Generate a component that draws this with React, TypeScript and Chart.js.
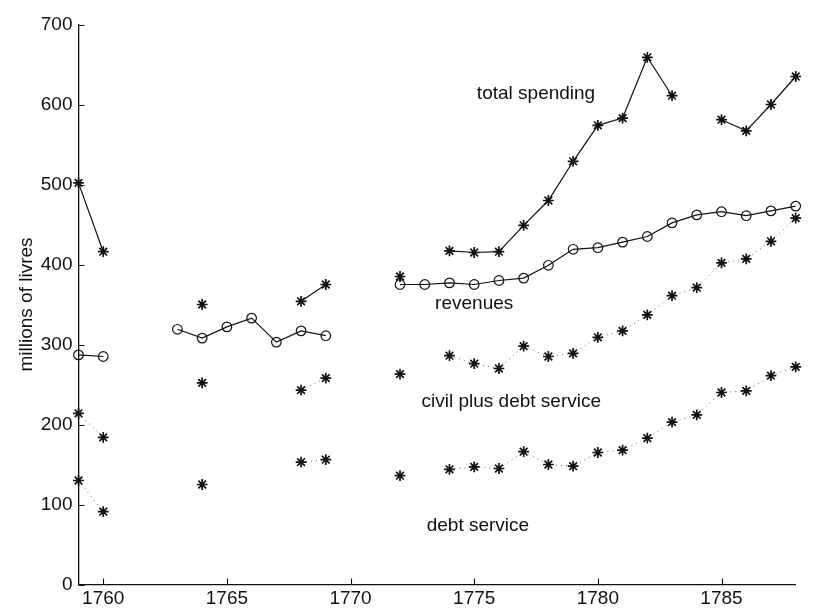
import React, { useEffect, useRef } from "react";
import { Chart, registerables } from "chart.js";

Chart.register(...registerables);

// ---- data ----
const years = [
  1759, 1760, 1761, 1762, 1763, 1764, 1765, 1766, 1767, 1768, 1769, 1770, 1771, 1772, 1773,
  1774, 1775, 1776, 1777, 1778, 1779, 1780, 1781, 1782, 1783, 1784, 1785, 1786, 1787, 1788,
];

const totalSpending = [
  502, 416, null, null, null, 350, null, null, null, 354, 375, null, null, 385, null,
  417, 415, 416, 449, 480, 529, 574, 583, 659, 611, null, 581, 567, 600, 635,
];

const revenues = [
  287, 285, null, null, 319, 308, 322, 333, 303, 317, 311, null, null, 375, 375,
  377, 375, 380, 383, 399, 419, 421, 428, 435, 452, 462, 466, 461, 467, 473,
];

const civilPlusDebt = [
  214, 184, null, null, null, 252, null, null, null, 243, 258, null, null, 263, null,
  286, 276, 270, 298, 285, 289, 309, 317, 337, 361, 371, 402, 407, 429, 458,
];

const debtService = [
  130, 91, null, null, null, 125, null, null, null, 153, 156, null, null, 136, null,
  144, 147, 145, 166, 150, 148, 165, 168, 183, 203, 212, 240, 242, 261, 272,
];

const xTickValues = [1760, 1765, 1770, 1775, 1780, 1785];
const yTickValues = [0, 100, 200, 300, 400, 500, 600, 700];

// curve labels and their anchors (year, value)
const curveLabels = ["total spending", "revenues", "civil plus debt service", "debt service"];
const curveLabelYears = [1777.5, 1775.0, 1776.5, 1775.15];
const curveLabelValues = [614, 351, 229, 74];

const yAxisTitle = "millions of livres";

// ---- styles ----
const INK = "#111111";
const FONT_FAMILY = '"Liberation Sans", Arial, Helvetica, sans-serif';
const FONT_SIZE = 19;

const toPoints = (vals: (number | null)[]) => years.map((yr, i) => ({ x: yr, y: vals[i] }));

const decorPlugin = {
  id: "decor",
  afterDraw(chart: any) {
    const { ctx, chartArea } = chart;
    const xs = chart.scales.x;
    const ys = chart.scales.y;
    ctx.save();
    ctx.strokeStyle = INK;
    ctx.lineWidth = 1.1;
    ctx.beginPath();
    yTickValues.forEach((v) => {
      const py = Math.round(ys.getPixelForValue(v)) + 0.5;
      ctx.moveTo(chartArea.left, py);
      ctx.lineTo(chartArea.left + 6, py);
    });
    xTickValues.forEach((v) => {
      const px = Math.round(xs.getPixelForValue(v)) + 0.5;
      ctx.moveTo(px, chartArea.bottom);
      ctx.lineTo(px, chartArea.bottom - 6);
    });
    ctx.stroke();

    ctx.fillStyle = INK;
    ctx.font = `${FONT_SIZE}px ${FONT_FAMILY}`;
    ctx.textAlign = "center";
    ctx.textBaseline = "middle";
    curveLabels.forEach((t, i) => {
      ctx.fillText(t, xs.getPixelForValue(curveLabelYears[i]), ys.getPixelForValue(curveLabelValues[i]));
    });
    ctx.restore();
  },
};

export default function App() {
  const canvasRef = useRef<HTMLCanvasElement | null>(null);

  useEffect(() => {
    const canvas = canvasRef.current;
    if (!canvas) return;

    const starPoint = {
      pointStyle: "star" as const,
      pointRadius: 5.4,
      pointBorderWidth: 1.7,
      pointBorderColor: INK,
      pointBackgroundColor: INK,
    };

    const chart = new Chart(canvas, {
      type: "line",
      data: {
        datasets: [
          {
            label: "total spending",
            data: toPoints(totalSpending),
            borderColor: INK,
            borderWidth: 1.2,
            spanGaps: false,
            clip: false,
            tension: 0,
            fill: false,
            ...starPoint,
          },
          {
            label: "revenues",
            data: toPoints(revenues),
            borderColor: INK,
            borderWidth: 1.2,
            spanGaps: false,
            clip: false,
            tension: 0,
            fill: false,
            pointStyle: "circle",
            pointRadius: 4.8,
            pointBorderWidth: 1.2,
            pointBorderColor: INK,
            pointBackgroundColor: "rgba(0,0,0,0)",
          },
          {
            label: "civil plus debt service",
            data: toPoints(civilPlusDebt),
            borderColor: "#666666",
            borderWidth: 1,
            borderDash: [1, 4],
            spanGaps: false,
            clip: false,
            tension: 0,
            fill: false,
            ...starPoint,
          },
          {
            label: "debt service",
            data: toPoints(debtService),
            borderColor: "#666666",
            borderWidth: 1,
            borderDash: [1, 4],
            spanGaps: false,
            clip: false,
            tension: 0,
            fill: false,
            ...starPoint,
          },
        ],
      },
      options: {
        responsive: false,
        animation: false,
        events: [],
        layout: { padding: { left: 0, top: 24.5, right: 18.3, bottom: 0 } },
        plugins: {
          legend: { display: false },
          tooltip: { enabled: false },
          title: { display: false },
        },
        scales: {
          x: {
            type: "linear",
            min: 1759,
            max: 1788,
            afterBuildTicks: (s: any) => {
              s.ticks = xTickValues.map((v) => ({ value: v }));
            },
            afterFit: (s: any) => {
              s.height = 30.5;
            },
            grid: { display: false, drawTicks: false },
            border: { display: true, color: INK, width: 1.3 },
            ticks: {
              padding: 3,
              color: INK,
              font: { family: FONT_FAMILY, size: FONT_SIZE },
              autoSkip: false,
              maxRotation: 0,
              callback: (v: any) => String(v),
            },
          },
          y: {
            type: "linear",
            min: 0,
            max: 700,
            afterBuildTicks: (s: any) => {
              s.ticks = yTickValues.map((v) => ({ value: v }));
            },
            afterFit: (s: any) => {
              s.width = 78.5;
            },
            grid: { display: false, drawTicks: false },
            border: { display: true, color: INK, width: 1.3 },
            ticks: {
              padding: 6,
              color: INK,
              font: { family: FONT_FAMILY, size: FONT_SIZE },
              autoSkip: false,
              callback: (v: any) => String(v),
            },
            title: {
              display: true,
              text: yAxisTitle,
              color: INK,
              font: { family: FONT_FAMILY, size: FONT_SIZE },
              padding: { top: 15.6, bottom: 0 },
            },
          },
        },
      },
      plugins: [decorPlugin],
    });

    return () => chart.destroy();
  }, []);

  return (
    <div style={{ position: "absolute", left: 0, top: 0, width: 814, height: 615, background: "#ffffff" }}>
      <canvas ref={canvasRef} width={814} height={615} style={{ display: "block" }} />
    </div>
  );
}
